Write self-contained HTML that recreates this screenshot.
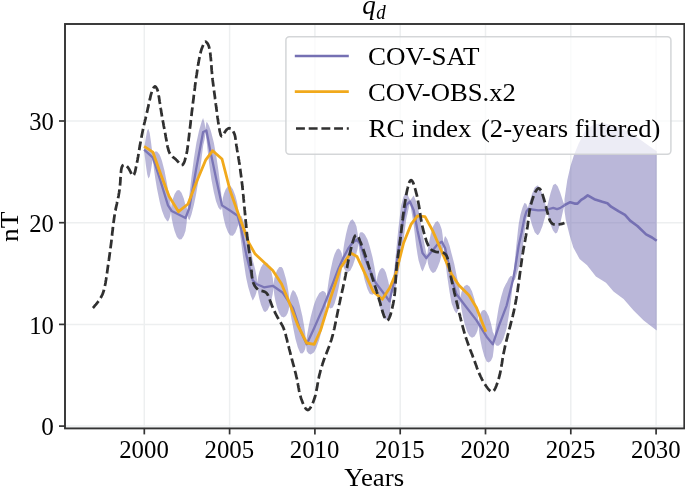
<!DOCTYPE html>
<html lang="en"><head><meta charset="utf-8"><title>q_d</title>
<style>html,body{margin:0;padding:0;background:#fff}body{width:685px;height:487px;overflow:hidden}svg{display:block;will-change:transform}text{font-family:"Liberation Serif","DejaVu Serif",serif;fill:#000}</style></head><body>
<svg width="685" height="487" viewBox="0 0 685 487">
<rect width="685" height="487" fill="#fff"/>
<g stroke="#edeff0" stroke-width="1.5" fill="none">
<line x1="144.3" y1="24.0" x2="144.3" y2="428.4"/>
<line x1="229.6" y1="24.0" x2="229.6" y2="428.4"/>
<line x1="314.9" y1="24.0" x2="314.9" y2="428.4"/>
<line x1="400.2" y1="24.0" x2="400.2" y2="428.4"/>
<line x1="485.5" y1="24.0" x2="485.5" y2="428.4"/>
<line x1="570.8" y1="24.0" x2="570.8" y2="428.4"/>
<line x1="656.1" y1="24.0" x2="656.1" y2="428.4"/>
<line x1="65.0" y1="426.1" x2="684.3" y2="426.1"/>
<line x1="65.0" y1="324.4" x2="684.3" y2="324.4"/>
<line x1="65.0" y1="222.7" x2="684.3" y2="222.7"/>
<line x1="65.0" y1="121.0" x2="684.3" y2="121.0"/>
</g>
<clipPath id="ax"><rect x="65.0" y="24.0" width="619.3" height="404.4"/></clipPath>
<g clip-path="url(#ax)" fill="none" stroke-linejoin="round">
<polygon points="144.1,147.3 144.4,146.3 145.0,142.9 145.9,137.2 147.2,130.6 148.4,128.8 149.7,133.0 151.0,141.9 151.9,149.3 152.5,153.9 152.9,155.7 153.0,156.2 153.9,152.7 155.2,151.4 157.0,151.6 159.5,154.6 160.5,156.8 162.0,161.1 164.5,170.8 167.0,183.7 168.0,189.4 168.8,193.4 170.1,200.5 171.0,208.1 171.7,203.6 171.8,203.0 173.0,198.4 174.6,193.9 176.9,190.4 179.2,190.0 181.5,192.7 183.8,198.6 185.4,204.7 185.5,205.0 186.6,207.1 187.4,211.2 188.3,202.5 189.3,195.8 189.6,193.2 191.4,177.6 193.9,158.6 196.0,145.2 196.4,142.8 199.0,130.8 201.5,121.9 203.1,118.0 203.3,118.7 204.6,123.2 205.5,129.1 206.3,122.5 206.4,122.0 207.5,122.8 209.1,126.0 210.7,130.6 211.4,133.0 213.8,142.5 216.0,154.7 216.1,155.0 218.4,170.2 220.0,183.1 221.2,193.6 222.0,203.6 222.8,197.9 224.0,193.5 225.7,189.2 228.1,186.1 230.0,185.8 230.5,186.0 232.9,189.3 235.3,195.6 237.0,202.1 237.6,205.1 238.2,209.8 239.0,219.2 239.9,216.4 241.2,216.1 241.4,216.1 243.0,219.7 245.6,228.0 246.4,231.1 248.2,237.5 250.8,249.4 252.7,260.2 253.4,262.4 255.2,269.6 256.4,275.5 256.5,276.0 257.4,282.6 258.2,276.7 259.3,272.0 260.9,267.4 263.2,263.7 264.0,263.1 265.4,262.3 267.7,263.4 270.0,267.7 271.6,272.8 272.7,277.7 272.8,278.3 273.5,284.5 274.3,278.8 275.4,274.4 277.0,270.2 279.3,267.1 281.5,267.1 282.8,268.5 283.7,271.0 286.0,279.0 287.6,286.7 288.7,293.5 289.5,301.0 290.3,296.0 291.5,292.6 292.9,290.0 293.1,290.0 295.4,292.3 297.8,297.7 300.1,306.2 300.4,307.7 302.4,316.2 304.0,325.2 305.2,332.9 306.0,341.0 306.7,337.7 307.0,335.5 308.5,327.2 310.6,317.3 313.5,306.3 314.2,304.1 316.4,298.2 319.3,293.1 322.2,291.1 323.0,291.1 324.3,291.4 325.8,293.0 326.8,296.7 327.6,288.4 328.7,280.5 330.3,271.3 332.5,261.2 333.1,258.8 334.6,253.9 336.8,249.6 338.5,248.5 339.0,248.7 340.6,250.6 341.7,253.3 342.5,257.9 343.3,249.9 343.5,248.3 344.4,242.6 346.0,234.2 348.1,225.7 348.2,225.4 350.4,220.8 352.5,219.3 352.7,219.4 354.9,222.4 356.5,226.6 356.5,226.6 357.6,232.9 358.4,240.0 359.3,234.6 359.8,232.9 360.6,232.3 362.4,232.2 364.2,233.8 365.0,234.7 367.5,239.6 369.3,245.0 370.0,247.4 372.6,257.5 374.4,266.8 375.7,274.7 375.8,275.5 376.6,282.2 377.3,276.9 378.4,273.1 379.9,269.7 382.0,267.8 384.1,268.9 385.8,272.3 386.1,273.2 388.2,281.0 389.5,287.3 389.7,287.2 390.8,287.7 391.5,290.7 392.4,284.0 393.7,273.8 394.8,265.1 395.6,256.7 398.2,230.3 400.8,208.2 401.1,205.6 403.3,197.2 405.9,191.4 406.2,191.0 407.8,194.9 409.1,198.1 409.9,199.5 410.0,199.9 410.9,199.5 412.1,197.8 413.7,195.5 413.8,195.7 416.2,201.5 417.5,206.2 418.6,210.8 421.1,224.3 422.5,234.5 423.5,239.1 425.2,247.9 426.3,253.3 426.4,253.6 427.3,255.0 428.1,247.7 429.2,241.2 430.8,233.9 432.5,228.2 433.1,226.5 435.4,222.2 437.6,220.9 437.6,221.0 439.9,224.3 441.5,228.7 441.8,229.8 442.6,235.1 443.4,243.0 444.3,238.3 445.1,236.1 445.5,236.4 447.2,239.1 449.6,245.8 451.4,253.0 451.9,254.7 454.3,264.1 456.4,274.6 456.7,275.9 458.4,283.5 459.6,290.2 460.5,297.7 461.4,292.6 462.7,289.1 463.9,286.9 464.5,286.1 467.0,284.8 469.5,286.5 472.0,291.3 474.5,299.3 476.3,307.0 476.5,307.7 477.6,314.1 478.5,321.8 479.3,316.8 480.4,313.5 482.0,310.7 484.3,309.7 486.5,311.7 486.6,311.9 488.7,316.1 491.0,323.5 492.6,330.8 492.8,332.0 493.7,333.5 494.5,337.4 495.4,328.4 496.7,319.4 498.5,308.5 499.1,305.5 501.1,296.9 503.6,288.6 506.2,283.3 506.7,282.7 508.8,278.3 510.6,276.1 511.9,276.1 512.8,278.6 512.9,277.9 513.6,272.1 514.6,262.5 514.9,259.8 516.1,247.4 518.2,227.9 518.7,224.0 520.3,215.3 521.6,210.5 522.5,207.4 524.4,202.9 524.6,202.9 526.1,203.8 526.5,204.2 527.1,206.0 527.9,207.9 528.5,205.6 528.8,204.5 530.2,200.2 532.0,194.0 534.7,187.6 537.3,185.5 538.1,185.8 539.9,188.0 542.6,194.7 544.4,201.0 545.7,205.3 545.8,205.5 546.7,207.9 547.6,205.0 548.8,200.1 550.5,193.2 552.9,185.7 553.2,185.1 555.4,183.8 557.0,185.5 557.8,186.5 560.0,191.9 560.2,192.5 561.9,197.8 563.1,201.6 564.0,203.7 564.5,203.4 564.5,199.0 567.3,180.0 570.5,166.0 574.0,155.0 578.7,143.6 585.4,130.4 593.0,124.7 602.4,123.1 617.6,126.6 630.9,133.2 640.4,139.8 649.9,146.5 656.7,151.2 656.7,330.6 643.7,320.5 633.6,310.5 623.6,299.1 613.5,291.6 606.0,282.8 595.9,276.5 587.1,265.2 579.6,258.9 573.3,247.6 569.5,235.1 565.8,220.0 564.5,211.0 564.5,207.0 564.0,207.3 563.1,210.6 561.9,215.9 560.2,223.5 560.0,224.3 557.8,231.1 557.0,232.7 555.4,233.4 553.2,230.7 552.9,230.3 550.5,224.2 548.8,218.2 547.6,214.0 546.7,211.5 545.8,214.5 545.7,214.7 544.4,219.2 542.6,225.7 539.9,232.6 538.1,235.0 537.3,235.1 534.7,232.2 532.0,225.0 530.2,218.3 528.8,213.6 528.5,212.4 527.9,211.5 527.1,215.1 526.5,218.4 526.1,221.4 524.6,232.1 524.4,233.3 522.5,248.7 521.6,254.5 520.3,260.9 518.7,267.0 518.2,269.1 516.1,276.6 514.9,279.8 514.6,280.1 513.6,281.2 512.9,282.1 512.8,282.2 511.9,292.2 510.6,302.6 508.8,315.4 506.7,327.9 506.2,329.8 503.6,338.2 501.1,343.4 499.1,345.3 498.5,345.7 496.7,345.8 495.4,344.5 494.5,341.0 493.7,349.7 492.8,356.6 492.6,357.3 491.0,360.7 488.7,362.6 486.6,361.5 486.5,361.3 484.3,356.2 482.0,347.9 480.4,340.0 479.3,333.0 478.5,325.4 477.6,330.3 476.5,333.1 476.3,333.4 474.5,336.4 472.0,337.8 469.5,336.1 467.0,331.3 464.5,323.3 463.9,321.1 462.7,315.6 461.4,308.7 460.5,301.3 459.6,306.4 458.4,310.0 456.7,313.0 456.4,313.4 454.3,310.5 451.9,304.3 451.4,302.4 449.6,292.3 447.2,276.3 445.5,262.9 445.1,259.9 444.3,254.5 443.4,246.6 442.6,251.3 441.8,253.6 441.5,255.1 439.9,261.4 437.6,267.4 437.6,267.5 435.4,271.8 433.1,273.0 432.5,272.8 430.8,271.1 429.2,267.7 428.1,263.9 427.3,258.6 426.4,262.1 426.3,262.7 425.2,265.3 423.5,269.5 422.5,271.5 421.1,268.7 418.6,260.4 417.5,254.6 416.2,245.9 413.8,226.1 413.7,225.1 412.1,215.3 410.9,208.0 410.0,203.5 409.9,203.5 409.1,206.6 407.8,212.4 406.2,219.6 405.9,221.8 403.3,241.6 401.1,255.2 400.8,257.8 398.2,274.7 395.6,287.1 394.8,290.3 393.7,291.3 392.4,292.6 391.5,294.3 390.8,303.9 389.7,313.7 389.5,315.5 388.2,318.1 386.1,319.7 385.8,319.7 384.1,318.5 382.0,314.3 379.9,306.9 378.4,299.6 377.3,293.1 376.6,285.8 375.8,290.5 375.7,290.8 374.4,293.2 372.6,294.7 370.0,293.9 369.3,293.0 367.5,289.2 365.0,281.2 364.2,278.2 362.4,269.4 360.6,258.7 359.8,253.5 359.3,250.8 358.4,243.6 357.6,249.0 356.5,253.0 356.5,253.0 354.9,259.6 352.7,265.9 352.5,266.3 350.4,270.4 348.2,271.9 348.1,271.9 346.0,271.4 344.4,269.0 343.5,266.7 343.3,266.0 342.5,261.5 341.7,269.5 340.6,277.1 339.0,285.9 338.5,288.5 336.8,296.1 334.6,303.5 333.1,306.8 332.5,307.7 330.3,308.5 328.7,307.0 327.6,304.6 326.8,300.3 325.8,309.1 324.3,317.9 323.0,324.7 322.2,328.3 319.3,339.6 316.4,347.8 314.2,351.9 313.5,352.8 310.6,354.5 308.5,353.6 307.0,351.6 306.7,350.9 306.0,344.6 305.2,349.0 304.0,351.7 302.4,353.4 300.4,353.3 300.1,352.7 297.8,347.3 295.4,338.8 293.1,327.2 292.9,325.8 291.5,319.0 290.3,312.1 289.5,304.6 288.7,309.7 287.6,313.2 286.0,316.1 283.7,317.5 282.8,317.1 281.5,316.7 279.3,313.6 277.0,307.3 275.4,300.9 274.3,294.9 273.5,288.1 272.8,293.3 272.7,293.9 271.6,299.2 270.0,304.9 267.7,309.9 265.4,311.9 264.0,311.5 263.2,310.2 260.9,304.6 259.3,298.5 258.2,292.9 257.4,286.2 256.5,292.1 256.4,292.5 255.2,296.0 253.4,299.5 252.7,300.4 250.8,295.8 248.2,287.1 246.4,279.1 245.6,274.4 243.0,256.9 241.4,243.9 241.2,242.5 239.9,232.5 239.0,222.8 238.2,225.9 237.6,226.5 237.0,228.6 235.3,232.7 232.9,235.8 230.5,235.6 230.0,235.2 228.1,232.5 225.7,226.4 224.0,219.9 222.8,214.0 222.0,207.2 221.2,209.7 220.0,209.6 218.4,207.4 216.1,201.5 216.0,201.3 213.8,192.1 211.4,179.5 210.7,174.8 209.1,163.2 207.5,149.3 206.4,139.0 206.3,138.6 205.5,132.7 204.6,139.4 203.3,145.1 203.1,146.0 201.5,159.0 199.0,177.3 196.4,192.4 196.0,194.8 193.9,205.1 191.4,214.8 189.6,219.7 189.3,220.2 188.3,218.7 187.4,214.8 186.6,223.2 185.5,231.0 185.4,231.2 183.8,235.7 181.5,239.2 179.2,239.6 176.9,236.9 174.6,231.1 173.0,224.9 171.8,219.1 171.7,218.4 171.0,211.7 170.1,216.7 168.8,219.9 168.0,221.4 167.0,220.9 164.5,217.3 162.0,210.7 160.5,205.2 159.5,201.1 157.0,188.7 155.2,177.9 153.9,168.8 153.0,159.8 152.9,159.7 152.5,160.9 151.9,164.3 151.0,170.0 149.7,176.6 148.4,178.4 147.2,174.2 145.9,165.3 145.0,157.9 144.4,153.3 144.1,151.9" fill="#7570b3" fill-opacity="0.5" stroke="none"/>
<polyline points="144.1,149.6 152.9,157.7 160.5,181.0 168.0,205.4 171.7,211.0 185.5,218.0 189.3,208.0 196.0,170.0 203.1,132.0 206.4,130.5 210.7,152.7 216.0,178.0 222.0,205.4 230.0,210.5 237.6,215.8 241.4,230.0 246.4,255.1 252.7,280.3 256.4,284.0 264.0,287.3 272.8,285.8 282.8,292.8 292.9,307.9 300.4,330.5 306.7,344.3 314.2,328.0 323.0,307.9 333.1,282.8 338.5,268.5 343.5,257.5 348.1,248.8 352.5,242.8 356.5,239.8 359.8,243.2 364.2,256.0 369.3,269.0 375.8,283.0 385.8,296.0 389.5,301.4 394.8,277.7 401.1,230.4 406.2,205.3 409.9,201.5 413.7,210.3 417.5,230.4 422.5,253.0 426.3,258.0 432.5,250.5 437.6,244.2 441.8,241.7 445.1,248.0 451.4,277.7 456.4,294.0 463.9,304.0 476.5,320.4 486.6,336.7 492.8,344.3 499.1,325.4 506.7,305.3 512.9,280.0 514.9,269.8 518.7,245.5 521.6,232.5 524.4,218.1 526.5,211.3 528.5,209.0 538.1,210.4 545.7,210.0 553.2,207.9 557.0,209.1 560.0,208.1 564.5,205.2" stroke="#7a75b6" stroke-width="2.3"/>
<polyline points="564.5,205.2 570.2,202.2 574.6,203.6 577.5,203.6 581.2,199.8 584.1,198.1 587.7,195.4 594.3,199.2 602.3,201.8 607.4,203.2 611.1,206.7 618.4,211.2 625.0,214.9 630.1,220.6 637.4,226.0 646.1,234.4 652.0,237.5 656.7,240.8" stroke="#7570b3" stroke-width="2.6"/>
<polyline points="144.1,146.4 152.9,152.2 161.0,175.0 169.2,196.6 178.5,211.7 188.0,204.0 196.5,182.0 205.6,160.2 212.7,150.7 222.0,159.0 230.0,190.2 238.8,215.3 248.9,243.0 255.2,254.1 272.8,270.5 281.6,284.0 290.4,305.4 297.9,325.5 306.7,343.0 314.2,344.3 320.5,330.5 330.6,297.8 340.6,267.7 350.7,253.1 356.9,256.4 365.7,275.2 373.3,291.6 382.3,299.3 389.8,287.7 396.1,272.7 403.6,243.0 411.2,224.1 417.5,215.8 425.0,216.6 432.5,230.4 441.3,250.5 451.4,273.9 458.9,285.2 469.0,295.3 476.5,307.8 485.8,331.7" stroke="#f1a91b" stroke-width="2.8"/>
<polyline points="92.9,308.0 93.9,306.9 94.8,305.7 95.8,304.6 96.8,303.4 97.7,302.2 98.6,301.0 99.5,299.8 100.3,298.5 101.0,297.3 101.7,295.9 102.4,294.6 102.9,293.2 103.4,291.8 103.9,290.3 104.2,288.9 104.6,287.4 104.9,285.9 105.2,284.5 105.5,283.0 105.7,281.5 106.0,280.0 106.2,278.5 106.5,277.0 106.7,275.5 106.9,274.1 107.1,272.6 107.3,271.1 107.5,269.6 107.7,268.1 107.9,266.7 108.1,265.2 108.3,263.7 108.5,262.2 108.7,260.8 109.0,259.3 109.2,257.8 109.4,256.3 109.6,254.9 109.8,253.4 110.0,251.9 110.2,250.4 110.4,248.9 110.6,247.4 110.8,245.9 111.0,244.4 111.2,242.8 111.4,241.3 111.5,239.8 111.7,238.2 111.9,236.7 112.1,235.1 112.2,233.6 112.4,232.0 112.6,230.5 112.8,229.0 112.9,227.5 113.1,225.9 113.3,224.4 113.5,222.9 113.7,221.5 113.9,220.0 114.1,218.5 114.3,217.1 114.5,215.7 114.7,214.3 115.0,212.9 115.2,211.5 115.5,210.2 115.7,208.9 116.0,207.6 116.3,206.3 116.6,205.0 116.9,203.7 117.1,202.4 117.4,201.1 117.7,199.8 118.0,198.5 118.3,197.1 118.6,195.7 118.8,194.2 119.1,192.7 119.3,191.1 119.6,189.5 119.8,187.8 120.0,186.0 120.1,184.1 120.3,182.2 120.4,180.1 120.5,178.0 120.7,175.9 120.8,173.9 121.0,171.9 121.2,170.1 121.5,168.4 121.9,167.0 122.4,165.9 123.0,165.2 123.8,164.8 124.7,164.8 125.7,165.3 126.8,166.2 128.0,167.5 129.0,169.0 130.0,170.8 130.8,172.5 131.6,174.0 132.2,175.2 132.9,175.8 133.4,175.6 134.0,174.8 134.5,173.4 135.1,171.7 135.5,169.7 135.9,167.7 136.3,165.9 136.7,164.1 137.0,162.5 137.3,160.9 137.6,159.4 137.8,158.0 138.1,156.7 138.3,155.4 138.5,154.0 138.7,152.7 138.9,151.4 139.2,150.1 139.4,148.7 139.6,147.3 139.9,145.9 140.1,144.4 140.4,142.9 140.7,141.4 140.9,139.9 141.2,138.4 141.5,136.9 141.8,135.4 142.1,133.9 142.4,132.4 142.7,130.9 143.0,129.4 143.4,127.9 143.7,126.4 144.0,124.9 144.3,123.5 144.7,122.0 145.0,120.6 145.4,119.1 145.7,117.7 146.1,116.2 146.4,114.8 146.7,113.3 147.1,111.9 147.4,110.4 147.7,108.9 148.1,107.4 148.4,105.9 148.7,104.4 149.1,102.9 149.4,101.4 149.7,99.9 150.1,98.5 150.4,97.0 150.7,95.6 151.1,94.2 151.5,92.9 151.9,91.6 152.4,90.2 153.0,88.7 153.9,87.2 155.0,86.3 156.0,87.1 156.9,88.6 157.5,90.1 158.0,91.6 158.2,92.9 158.5,94.3 158.7,95.7 159.0,97.1 159.2,98.6 159.4,100.0 159.6,101.5 159.9,103.0 160.1,104.5 160.3,106.0 160.6,107.5 160.8,109.0 161.1,110.6 161.3,112.1 161.5,113.6 161.8,115.1 162.0,116.5 162.3,118.0 162.6,119.5 162.8,120.9 163.1,122.3 163.4,123.8 163.6,125.2 163.9,126.7 164.2,128.1 164.5,129.6 164.7,131.0 165.0,132.5 165.3,134.0 165.6,135.5 165.8,137.0 166.1,138.5 166.4,140.0 166.7,141.6 166.9,143.2 167.2,144.8 167.5,146.3 167.9,147.9 168.3,149.4 168.7,150.9 169.3,152.3 169.9,153.6 170.6,154.7 171.5,155.8 172.5,156.8 173.7,157.6 174.8,158.5 176.0,159.6 177.2,160.8 178.4,162.2 179.5,163.5 180.6,164.6 181.5,165.2 182.4,165.0 183.2,164.2 183.9,162.9 184.6,161.2 185.1,159.3 185.6,157.5 186.1,155.7 186.5,154.0 186.8,152.5 187.1,151.0 187.3,149.5 187.5,148.1 187.7,146.8 187.9,145.4 188.1,144.1 188.2,142.8 188.4,141.4 188.6,140.0 188.7,138.6 188.9,137.2 189.1,135.8 189.2,134.3 189.4,132.8 189.6,131.4 189.7,129.9 189.9,128.4 190.1,126.9 190.3,125.3 190.5,123.8 190.6,122.3 190.8,120.7 191.0,119.2 191.2,117.7 191.4,116.1 191.6,114.6 191.7,113.1 191.9,111.5 192.1,110.0 192.3,108.5 192.5,107.0 192.7,105.5 192.8,104.0 193.0,102.5 193.2,101.0 193.4,99.5 193.6,98.0 193.7,96.5 193.9,95.1 194.1,93.6 194.3,92.1 194.5,90.6 194.7,89.2 194.9,87.7 195.0,86.2 195.2,84.8 195.4,83.3 195.6,81.8 195.8,80.4 196.0,78.9 196.2,77.4 196.4,76.0 196.7,74.5 196.9,73.0 197.1,71.6 197.3,70.1 197.6,68.6 197.8,67.1 198.0,65.6 198.3,64.1 198.6,62.6 198.8,61.1 199.1,59.6 199.4,58.0 199.7,56.5 200.0,55.0 200.4,53.5 200.7,52.1 201.1,50.7 201.5,49.3 202.0,48.0 202.5,46.7 203.1,45.3 203.8,43.7 204.6,42.2 205.6,41.6 206.8,42.5 207.8,43.9 208.5,45.4 209.0,46.8 209.3,48.1 209.6,49.5 209.9,50.9 210.1,52.3 210.3,53.7 210.5,55.2 210.6,56.7 210.8,58.1 210.9,59.6 211.1,61.1 211.2,62.6 211.3,64.2 211.4,65.7 211.5,67.2 211.6,68.8 211.7,70.4 211.9,71.9 212.0,73.5 212.1,75.0 212.3,76.6 212.5,78.2 212.6,79.7 212.8,81.3 213.0,82.8 213.2,84.3 213.4,85.9 213.6,87.4 213.8,88.9 214.0,90.4 214.2,91.9 214.4,93.3 214.6,94.7 214.8,96.2 215.0,97.6 215.1,98.9 215.3,100.3 215.5,101.6 215.7,102.9 215.8,104.2 216.0,105.4 216.2,106.7 216.3,108.0 216.5,109.3 216.7,110.6 216.8,112.0 217.0,113.4 217.2,114.8 217.4,116.3 217.6,117.9 217.9,119.5 218.1,121.2 218.4,123.1 218.7,125.0 219.0,127.0 219.4,129.1 219.7,131.1 220.2,133.0 220.6,134.6 221.1,135.7 221.7,136.3 222.3,136.1 223.0,135.3 223.7,134.0 224.6,132.4 225.6,130.9 226.8,129.5 228.1,128.5 229.4,128.2 230.7,128.6 231.9,129.5 232.9,130.9 233.7,132.3 234.4,133.8 234.8,135.2 235.2,136.6 235.4,138.1 235.6,139.6 235.8,141.0 236.0,142.5 236.2,144.0 236.4,145.4 236.7,146.9 236.9,148.4 237.1,149.9 237.4,151.4 237.6,152.9 237.9,154.3 238.1,155.8 238.4,157.3 238.6,158.8 238.9,160.3 239.1,161.7 239.4,163.2 239.6,164.7 239.8,166.2 240.0,167.7 240.2,169.1 240.4,170.6 240.6,172.1 240.8,173.6 241.0,175.1 241.2,176.6 241.4,178.1 241.6,179.6 241.7,181.0 241.9,182.5 242.1,184.0 242.3,185.5 242.4,187.0 242.6,188.5 242.7,190.0 242.9,191.5 243.1,193.0 243.2,194.4 243.4,195.9 243.5,197.4 243.6,198.9 243.8,200.4 243.9,201.9 244.1,203.4 244.2,204.9 244.4,206.4 244.5,207.9 244.6,209.4 244.8,210.9 244.9,212.4 245.0,213.8 245.2,215.3 245.3,216.8 245.5,218.3 245.6,219.8 245.7,221.3 245.9,222.8 246.0,224.3 246.2,225.8 246.3,227.3 246.4,228.8 246.6,230.3 246.7,231.8 246.9,233.3 247.0,234.8 247.2,236.3 247.4,237.8 247.5,239.3 247.7,240.7 247.9,242.2 248.1,243.7 248.3,245.2 248.5,246.7 248.7,248.1 248.9,249.6 249.1,251.1 249.3,252.5 249.5,254.0 249.7,255.5 249.9,256.9 250.1,258.4 250.3,259.9 250.5,261.4 250.7,262.9 250.9,264.4 251.0,265.9 251.2,267.4 251.3,268.9 251.4,270.5 251.5,272.0 251.7,273.6 251.8,275.1 252.0,276.6 252.2,278.1 252.4,279.6 252.8,281.1 253.2,282.5 253.8,283.9 254.4,285.2 255.2,286.5 256.1,287.7 257.2,288.8 258.4,289.7 259.8,290.4 261.2,290.9 262.7,291.2 264.2,291.6 265.5,292.2 266.5,293.1 267.4,294.2 268.2,295.6 268.8,297.1 269.4,298.6 269.9,300.1 270.4,301.6 271.0,303.0 271.5,304.4 272.0,305.8 272.6,307.1 273.2,308.5 273.7,309.8 274.4,311.2 275.0,312.5 275.7,313.8 276.4,315.2 277.1,316.5 277.8,317.8 278.6,319.1 279.3,320.4 280.1,321.7 280.9,323.0 281.6,324.3 282.4,325.6 283.0,326.9 283.6,328.3 284.1,329.7 284.6,331.1 285.1,332.6 285.5,334.0 285.9,335.5 286.2,336.9 286.6,338.4 287.0,339.8 287.3,341.3 287.7,342.7 288.0,344.2 288.4,345.6 288.8,347.1 289.1,348.5 289.5,350.0 289.9,351.5 290.3,352.9 290.6,354.4 291.0,355.9 291.4,357.3 291.8,358.8 292.2,360.3 292.6,361.8 293.0,363.3 293.4,364.8 293.8,366.2 294.2,367.7 294.6,369.2 294.9,370.7 295.3,372.1 295.7,373.6 296.0,375.0 296.3,376.4 296.7,377.9 297.0,379.3 297.3,380.7 297.5,382.1 297.8,383.4 298.0,384.8 298.3,386.1 298.5,387.5 298.8,388.8 299.0,390.2 299.3,391.6 299.6,393.0 300.0,394.4 300.4,395.9 300.8,397.4 301.3,399.0 301.9,400.6 302.5,402.2 303.2,404.0 304.0,405.7 304.9,407.3 305.7,408.6 306.7,409.6 307.6,410.0 308.6,409.8 309.5,409.0 310.4,407.8 311.3,406.3 312.1,404.6 312.9,402.9 313.5,401.2 314.1,399.5 314.6,398.0 315.1,396.5 315.5,395.0 315.8,393.5 316.1,392.1 316.4,390.7 316.7,389.4 316.9,388.0 317.2,386.6 317.4,385.3 317.6,383.9 317.9,382.5 318.1,381.1 318.4,379.7 318.7,378.3 319.0,376.8 319.3,375.4 319.7,373.9 320.1,372.4 320.4,371.0 320.8,369.5 321.3,368.0 321.7,366.6 322.2,365.1 322.6,363.6 323.1,362.2 323.6,360.8 324.1,359.3 324.7,357.9 325.2,356.5 325.7,355.1 326.3,353.7 326.8,352.3 327.4,350.9 327.9,349.5 328.4,348.1 329.0,346.7 329.5,345.3 330.0,343.9 330.5,342.5 330.9,341.1 331.4,339.7 331.8,338.3 332.2,336.9 332.6,335.5 333.0,334.0 333.3,332.6 333.7,331.2 334.0,329.7 334.4,328.3 334.7,326.8 335.0,325.3 335.3,323.9 335.6,322.4 335.9,320.9 336.2,319.5 336.5,318.0 336.8,316.5 337.1,315.0 337.4,313.5 337.7,312.0 338.0,310.5 338.3,309.0 338.6,307.5 338.9,306.0 339.2,304.5 339.6,303.0 339.9,301.4 340.2,299.9 340.5,298.4 340.9,296.9 341.2,295.4 341.6,293.9 341.9,292.4 342.2,290.9 342.6,289.4 342.9,287.9 343.2,286.5 343.5,285.0 343.8,283.6 344.2,282.1 344.5,280.7 344.8,279.3 345.0,278.0 345.3,276.6 345.6,275.3 345.8,273.9 346.1,272.6 346.3,271.3 346.6,270.1 346.8,268.8 347.1,267.5 347.3,266.2 347.5,264.9 347.8,263.5 348.0,262.2 348.3,260.8 348.6,259.4 348.9,257.9 349.2,256.4 349.5,254.9 349.9,253.3 350.3,251.6 350.7,249.9 351.1,248.1 351.6,246.2 352.1,244.3 352.6,242.3 353.2,240.4 353.8,238.6 354.4,237.1 355.0,235.9 355.7,235.2 356.4,235.0 357.2,235.4 357.9,236.4 358.7,237.8 359.4,239.4 360.1,241.2 360.9,243.0 361.5,244.8 362.2,246.5 362.8,248.2 363.4,249.8 364.0,251.4 364.5,253.0 365.0,254.5 365.5,256.0 366.0,257.4 366.5,258.8 366.9,260.2 367.3,261.5 367.7,262.8 368.1,264.1 368.5,265.4 368.9,266.7 369.3,267.9 369.7,269.1 370.1,270.3 370.4,271.6 370.8,272.8 371.2,274.0 371.6,275.2 371.9,276.4 372.3,277.6 372.7,278.8 373.1,280.0 373.5,281.2 373.9,282.5 374.3,283.8 374.7,285.1 375.1,286.4 375.6,287.8 376.0,289.2 376.5,290.7 376.9,292.1 377.4,293.7 377.8,295.2 378.3,296.9 378.8,298.5 379.3,300.3 379.9,302.1 380.4,303.9 380.9,305.9 381.5,307.8 382.1,309.8 382.6,311.8 383.2,313.6 383.8,315.4 384.4,316.9 385.0,318.2 385.6,319.3 386.3,320.0 386.9,320.4 387.5,320.3 388.1,319.9 388.7,319.0 389.3,317.8 389.9,316.4 390.5,314.8 391.0,313.0 391.5,311.1 392.0,309.2 392.4,307.3 392.8,305.4 393.2,303.6 393.5,301.9 393.8,300.2 394.0,298.6 394.3,297.0 394.5,295.5 394.7,293.9 394.8,292.5 395.0,291.0 395.1,289.6 395.2,288.2 395.3,286.8 395.4,285.4 395.4,284.0 395.5,282.7 395.6,281.3 395.7,280.0 395.7,278.6 395.8,277.2 395.9,275.9 396.0,274.5 396.1,273.1 396.2,271.7 396.3,270.2 396.5,268.8 396.6,267.3 396.8,265.8 396.9,264.3 397.1,262.8 397.3,261.3 397.5,259.8 397.7,258.2 397.9,256.7 398.1,255.2 398.3,253.7 398.6,252.1 398.8,250.6 399.0,249.1 399.2,247.6 399.4,246.1 399.6,244.6 399.8,243.1 400.0,241.7 400.2,240.3 400.4,238.8 400.6,237.5 400.7,236.1 400.9,234.7 401.1,233.4 401.2,232.1 401.3,230.8 401.5,229.5 401.6,228.2 401.8,226.8 401.9,225.5 402.1,224.2 402.2,222.9 402.3,221.6 402.5,220.2 402.7,218.9 402.8,217.5 403.0,216.0 403.2,214.6 403.4,213.1 403.6,211.6 403.8,210.1 404.0,208.5 404.2,206.9 404.5,205.2 404.8,203.5 405.1,201.7 405.4,199.9 405.7,198.0 406.0,196.0 406.4,194.0 406.8,192.0 407.2,189.9 407.7,188.0 408.1,186.1 408.6,184.4 409.1,182.9 409.6,181.7 410.1,180.8 410.7,180.3 411.2,180.2 411.8,180.5 412.4,181.3 413.0,182.4 413.6,183.8 414.1,185.4 414.7,187.1 415.2,189.0 415.7,190.9 416.2,192.8 416.7,194.6 417.1,196.4 417.4,198.1 417.8,199.8 418.1,201.4 418.4,202.9 418.7,204.4 418.9,205.9 419.2,207.3 419.4,208.7 419.6,210.1 419.8,211.4 420.0,212.8 420.2,214.1 420.4,215.4 420.6,216.8 420.8,218.1 421.0,219.4 421.3,220.8 421.5,222.1 421.8,223.5 422.1,224.9 422.4,226.4 422.7,227.8 423.0,229.2 423.4,230.7 423.8,232.2 424.2,233.6 424.6,235.1 425.0,236.6 425.5,238.1 426.0,239.7 426.5,241.2 427.1,242.7 427.7,244.2 428.4,245.6 429.1,247.0 430.0,248.2 430.9,249.3 432.0,250.2 433.2,250.9 434.6,251.4 436.1,251.8 437.6,252.1 439.2,252.2 440.8,252.4 442.3,252.6 443.6,252.9 444.8,253.6 445.7,254.5 446.5,255.7 447.1,257.0 447.6,258.5 448.0,260.1 448.4,261.8 448.7,263.6 448.9,265.3 449.2,266.9 449.5,268.6 449.7,270.2 450.0,271.7 450.3,273.2 450.6,274.7 450.8,276.2 451.1,277.7 451.4,279.1 451.7,280.5 452.0,281.9 452.3,283.3 452.6,284.7 452.9,286.1 453.2,287.5 453.6,288.8 453.9,290.2 454.2,291.7 454.5,293.1 454.9,294.5 455.2,295.9 455.6,297.4 455.9,298.8 456.2,300.3 456.6,301.8 456.9,303.2 457.3,304.7 457.6,306.2 458.0,307.7 458.3,309.1 458.7,310.6 459.1,312.1 459.4,313.6 459.8,315.0 460.1,316.5 460.5,318.0 460.8,319.4 461.2,320.9 461.6,322.3 461.9,323.8 462.3,325.2 462.7,326.7 463.1,328.1 463.5,329.5 463.9,331.0 464.3,332.4 464.7,333.9 465.2,335.3 465.6,336.8 466.1,338.2 466.6,339.6 467.1,341.1 467.6,342.5 468.1,344.0 468.6,345.4 469.2,346.8 469.7,348.3 470.2,349.7 470.8,351.1 471.3,352.5 471.9,353.9 472.4,355.3 472.9,356.7 473.4,358.0 473.9,359.4 474.5,360.8 474.9,362.1 475.4,363.4 475.9,364.8 476.4,366.1 476.8,367.4 477.3,368.7 477.8,370.0 478.3,371.3 478.8,372.6 479.4,373.9 480.0,375.2 480.6,376.5 481.3,377.9 482.0,379.3 482.7,380.6 483.5,382.1 484.4,383.5 485.4,385.0 486.4,386.5 487.5,388.0 488.6,389.4 489.8,390.6 490.9,391.4 492.0,391.7 493.1,391.4 494.0,390.5 494.8,389.2 495.6,387.6 496.3,385.9 496.9,384.2 497.5,382.5 498.1,380.9 498.6,379.3 499.0,377.7 499.4,376.2 499.8,374.7 500.1,373.3 500.4,371.8 500.7,370.4 501.0,369.0 501.2,367.6 501.4,366.3 501.6,364.9 501.9,363.5 502.1,362.2 502.3,360.8 502.5,359.4 502.7,358.1 503.0,356.7 503.2,355.3 503.5,353.8 503.8,352.4 504.1,351.0 504.4,349.5 504.7,348.1 505.0,346.6 505.4,345.1 505.7,343.6 506.1,342.2 506.4,340.7 506.8,339.2 507.2,337.7 507.5,336.2 507.9,334.7 508.3,333.3 508.7,331.8 509.0,330.3 509.4,328.8 509.8,327.4 510.2,325.9 510.6,324.5 510.9,323.0 511.3,321.6 511.7,320.1 512.1,318.7 512.4,317.2 512.8,315.8 513.1,314.3 513.5,312.9 513.8,311.4 514.1,309.9 514.4,308.5 514.7,307.0 515.0,305.5 515.3,304.1 515.6,302.6 515.9,301.1 516.1,299.6 516.4,298.2 516.6,296.7 516.9,295.2 517.1,293.7 517.3,292.2 517.6,290.8 517.8,289.3 518.0,287.8 518.2,286.3 518.4,284.8 518.6,283.4 518.8,281.9 519.0,280.4 519.2,278.9 519.4,277.5 519.6,276.0 519.8,274.5 520.0,273.0 520.2,271.6 520.4,270.1 520.6,268.6 520.7,267.1 521.0,265.6 521.2,264.1 521.4,262.7 521.6,261.2 521.8,259.7 522.0,258.2 522.2,256.7 522.5,255.2 522.7,253.7 523.0,252.2 523.2,250.7 523.5,249.1 523.8,247.6 524.0,246.1 524.3,244.6 524.6,243.1 524.9,241.6 525.2,240.0 525.4,238.5 525.7,237.0 526.0,235.5 526.2,234.1 526.5,232.6 526.8,231.1 527.0,229.7 527.2,228.2 527.5,226.8 527.7,225.4 527.9,224.0 528.0,222.7 528.2,221.3 528.4,220.0 528.5,218.6 528.7,217.3 528.8,216.0 529.0,214.6 529.2,213.2 529.4,211.9 529.6,210.5 529.9,209.0 530.2,207.6 530.5,206.0 530.9,204.5 531.4,202.9 531.9,201.2 532.4,199.5 533.0,197.7 533.7,195.8 534.5,194.0 535.3,192.2 536.1,190.7 536.9,189.5 537.8,188.6 538.6,188.3 539.4,188.5 540.2,189.3 540.9,190.5 541.6,192.0 542.3,193.8 542.9,195.6 543.4,197.3 543.9,199.0 544.4,200.6 544.8,202.1 545.2,203.5 545.5,204.9 545.9,206.3 546.2,207.6 546.5,208.9 546.9,210.3 547.2,211.7 547.6,213.1 548.0,214.5 548.4,216.1 548.9,217.6 549.4,219.2 550.0,220.7 550.8,222.0 551.7,223.1 552.8,224.0 554.1,224.5 555.6,224.8 557.1,224.7 558.7,224.5 560.4,224.2 561.9,223.8 563.3,223.4 564.5,223.0" stroke="#303030" stroke-width="2.75" stroke-dasharray="8.9 3.8"/>
</g>
<g stroke="#333333" fill="none">
<rect x="65.0" y="24.0" width="619.3" height="404.4" stroke-width="1.9"/>
</g>
<g stroke="#333333" stroke-width="1.7">
<line x1="144.3" y1="428.4" x2="144.3" y2="434.4"/>
<line x1="229.6" y1="428.4" x2="229.6" y2="434.4"/>
<line x1="314.9" y1="428.4" x2="314.9" y2="434.4"/>
<line x1="400.2" y1="428.4" x2="400.2" y2="434.4"/>
<line x1="485.5" y1="428.4" x2="485.5" y2="434.4"/>
<line x1="570.8" y1="428.4" x2="570.8" y2="434.4"/>
<line x1="656.1" y1="428.4" x2="656.1" y2="434.4"/>
<line x1="59.0" y1="426.1" x2="65.0" y2="426.1"/>
<line x1="59.0" y1="324.4" x2="65.0" y2="324.4"/>
<line x1="59.0" y1="222.7" x2="65.0" y2="222.7"/>
<line x1="59.0" y1="121.0" x2="65.0" y2="121.0"/>
</g>
<g font-size="25.3px">
<text x="144.0" y="457.6" text-anchor="middle" textLength="49.6" lengthAdjust="spacingAndGlyphs">2000</text>
<text x="229.3" y="457.6" text-anchor="middle" textLength="49.6" lengthAdjust="spacingAndGlyphs">2005</text>
<text x="314.6" y="457.6" text-anchor="middle" textLength="49.6" lengthAdjust="spacingAndGlyphs">2010</text>
<text x="399.9" y="457.6" text-anchor="middle" textLength="49.6" lengthAdjust="spacingAndGlyphs">2015</text>
<text x="485.2" y="457.6" text-anchor="middle" textLength="49.6" lengthAdjust="spacingAndGlyphs">2020</text>
<text x="570.5" y="457.6" text-anchor="middle" textLength="49.6" lengthAdjust="spacingAndGlyphs">2025</text>
<text x="655.8" y="457.6" text-anchor="middle" textLength="49.6" lengthAdjust="spacingAndGlyphs">2030</text>
<text x="53.9" y="435.4" text-anchor="end" textLength="12.6" lengthAdjust="spacingAndGlyphs">0</text>
<text x="53.9" y="333.7" text-anchor="end" textLength="24.6" lengthAdjust="spacingAndGlyphs">10</text>
<text x="53.9" y="232.0" text-anchor="end" textLength="24.6" lengthAdjust="spacingAndGlyphs">20</text>
<text x="53.9" y="130.3" text-anchor="end" textLength="24.6" lengthAdjust="spacingAndGlyphs">30</text>
</g>
<text x="374.2" y="485.7" font-size="24.5px" text-anchor="middle" textLength="59.8" lengthAdjust="spacingAndGlyphs">Years</text>
<text transform="translate(17.7,226.6) rotate(-90)" font-size="25.2px" text-anchor="middle" textLength="30.6" lengthAdjust="spacingAndGlyphs">nT</text>
<text x="362.2" y="13.6" font-size="27px" font-style="italic">q</text><text transform="translate(376.2,18.6) scale(0.88,1)" font-size="21.6px" font-style="italic">d</text>
<rect x="285.9" y="36.8" width="385.0" height="117.4" rx="3.4" ry="3.4" fill="#fff" fill-opacity="0.73" stroke="#cfd2d4" stroke-opacity="0.9" stroke-width="1.5"/>
<g fill="none" stroke-width="2.55">
<line x1="294.8" y1="55.9" x2="348.8" y2="55.9" stroke="#7570b3"/>
<line x1="294.8" y1="91.6" x2="348.8" y2="91.6" stroke="#f1a91b"/>
<line x1="294.8" y1="128.5" x2="348.8" y2="128.5" stroke="#303030" stroke-dasharray="8.9 3.8" stroke-dashoffset="-1.2"/>
</g>
<g font-size="26.2px">
<text x="367.9" y="65.4" textLength="111.6" lengthAdjust="spacingAndGlyphs">COV-SAT</text>
<text x="367.9" y="101.3" textLength="148.0" lengthAdjust="spacingAndGlyphs">COV-OBS.x2</text>
<text x="368.6" y="137.0" textLength="102.8" lengthAdjust="spacingAndGlyphs">RC index</text><text x="481.0" y="137.0" textLength="179.4" lengthAdjust="spacingAndGlyphs">(2-years filtered)</text>
</g>
</svg></body></html>
